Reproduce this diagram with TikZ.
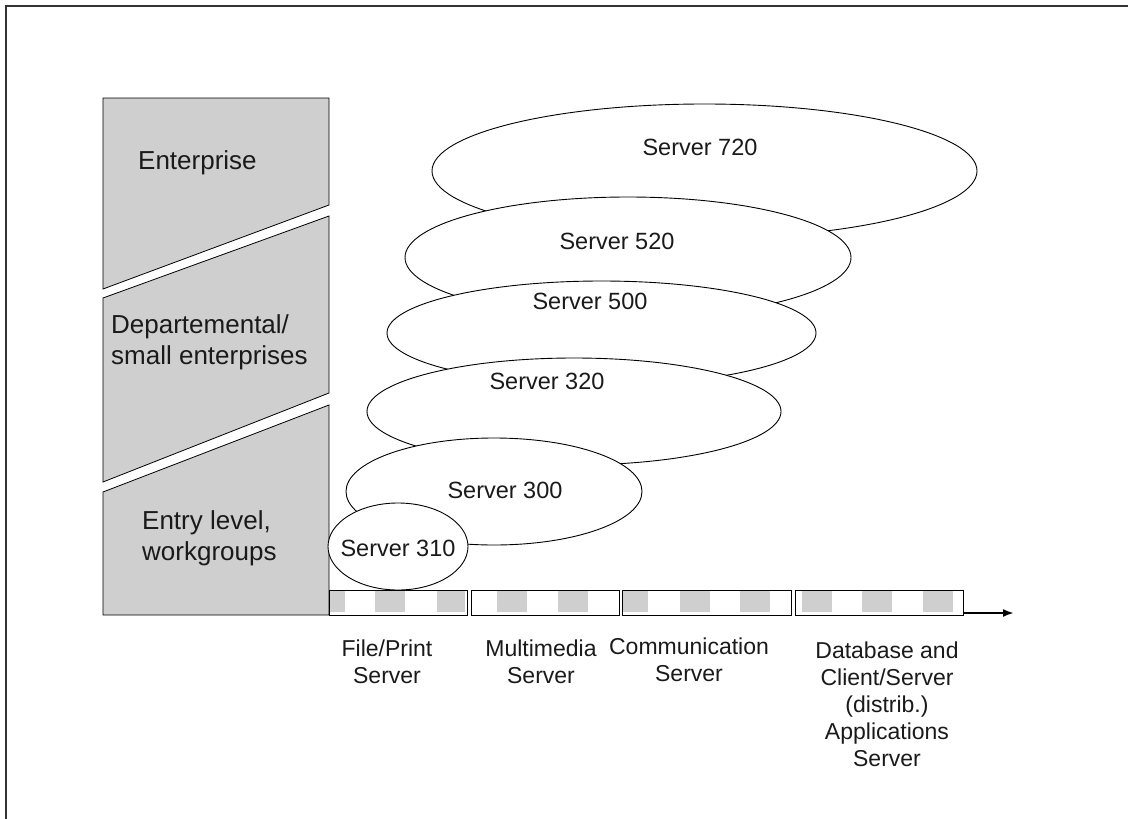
\documentclass[tikz,border=0pt]{standalone}
\usepackage{fontspec}
\setmainfont{Liberation Sans}
\usetikzlibrary{shapes.geometric,arrows.meta}
\definecolor{frame}{HTML}{333333}
\definecolor{stip}{HTML}{CFCFCF}
\definecolor{txt}{HTML}{1A1A1A}
\tikzset{
  srv/.style={ellipse, draw=black, line width=0.9pt, fill=white, inner sep=0pt},
  srvtxt/.style={font=\fontsize{23.5}{28}\selectfont, text=txt, inner sep=0pt},
  coltxt/.style={font=\fontsize{26}{31}\selectfont, text=txt, align=left, anchor=west, inner sep=0pt},
  band/.style={draw=black, line width=0.8pt, fill=stip},
  segbox/.style={rectangle, draw=black, line width=1pt, fill=white, inner sep=0pt, minimum height=25pt},
  patch/.style={fill=stip},
  lbl/.style={font=\fontsize{23}{27}\selectfont, text=txt, align=center, anchor=north, inner sep=0pt},
}
\begin{document}
\begin{tikzpicture}[x=1pt,y=-1pt]
\useasboundingbox (0,0) rectangle (1128,819);
% frame (top and left only)
\draw[frame, line width=2.2pt] (6,819) -- (6,6) -- (1128,6);
% left column bands
\draw[band] (103,98) -- (329,98) -- (329,205) -- (103,289) -- cycle;
\draw[band] (103,298) -- (329,216) -- (329,393) -- (103,482) -- cycle;
\draw[band] (103,492) -- (329,405) -- (329,615) -- (103,615) -- cycle;
\node[coltxt] (tEnt) at (138,163) {Enterprise};
\node[coltxt] (tDep) at (111,342) {Departemental/\\small enterprises};
\node[coltxt] (tEntry) at (142,538) {Entry level,\\workgroups};
% ellipses, back to front
\node[srv, minimum width=545pt, minimum height=134pt] (e720) at (704.5,171) {};
\node[srvtxt] (t720) at (700,147) {Server 720};
\node[srv, minimum width=446pt, minimum height=121pt] (e520) at (628,257.5) {};
\node[srvtxt] (t520) at (617,241) {Server 520};
\node[srv, minimum width=429pt, minimum height=104pt] (e500) at (601.5,333) {};
\node[srvtxt] (t500) at (590,301) {Server 500};
\node[srv, minimum width=414pt, minimum height=107pt] (e320) at (574,411.5) {};
\node[srvtxt] (t320) at (547,381) {Server 320};
\node[srv, minimum width=296pt, minimum height=107pt] (e300) at (494,491.5) {};
\node[srvtxt] (t300) at (505,490) {Server 300};
\node[srv, minimum width=140pt, minimum height=87pt] (e310) at (398,546.5) {};
\node[srvtxt] (t310) at (398,548) {Server 310};
% bar segments
\node[segbox, minimum width=138pt] (s1) at (398,602.5) {};
\node[segbox, minimum width=148pt] (s2) at (545,602.5) {};
\node[segbox, minimum width=169pt] (s3) at (706.5,602.5) {};
\node[segbox, minimum width=168pt] (s4) at (879,602.5) {};
\foreach \a/\b in {330/345,375/405,437/465,497/527,558/588,623/648,680/710,740/770,802/832,862/892,923/953}
  \fill[patch] (\a,591) rectangle (\b,612);
\coordinate (arrA) at (963,613);
\coordinate (arrB) at (1014,613);
\draw[line width=2pt, -{Latex[length=11pt,width=8pt]}] (arrA) -- (arrB);
% labels under bar
\node[lbl] (l1) at (387,640) {File/Print\\Server};
\node[lbl] (l2) at (541,640) {Multimedia\\Server};
\node[lbl] (l3) at (689,638) {Communication\\Server};
\node[lbl] (l4) at (887,642) {Database and\\Client/Server\\(distrib.)\\Applications\\Server};
\end{tikzpicture}
\end{document}
